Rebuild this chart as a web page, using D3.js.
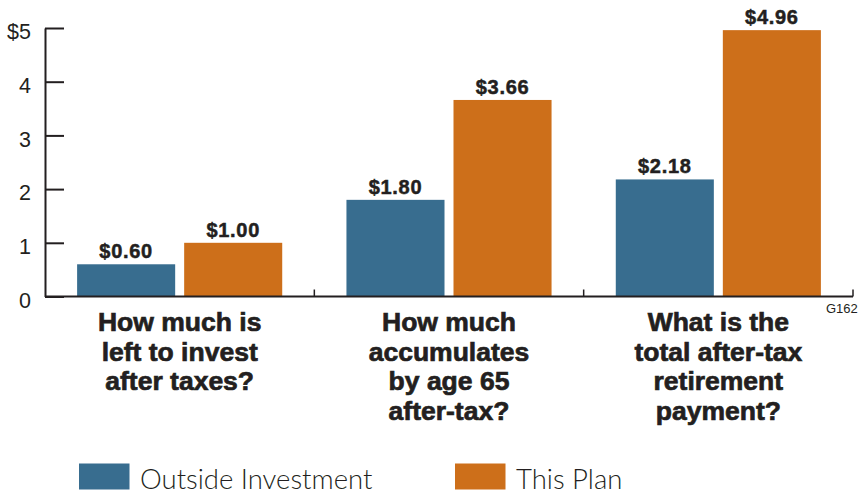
<!DOCTYPE html>
<html>
<head>
<meta charset="utf-8">
<script src="https://cdn.jsdelivr.net/npm/d3@7"></script>
<style>
  html, body { margin: 0; padding: 0; background: #ffffff; }
  svg { display: block; }
  text { fill: #231f20; }
</style>
</head>
<body>
<svg id="chart" width="861" height="493"></svg>
<script>
// Categories (each question is split into its printed lines)
const categories = ["q1", "q2", "q3"];
const categoryLines = [
  ["How much is", "left to invest", "after taxes?"],
  ["How much", "accumulates", "by age 65", "after-tax?"],
  ["What is the", "total after-tax", "retirement", "payment?"]
];
const seriesNames = ["Outside Investment", "This Plan"];
const outsideInvestment = [0.60, 1.80, 2.18];
const thisPlan = [1.00, 3.66, 4.96];
const yTicks = [0, 1, 2, 3, 4, 5];
const seriesColors = ["#386d8f", "#cd6f1a"];
const figureCode = "G162";

const svg = d3.select("#chart");
const ink = "#231f20";

const plot = { left: 45, right: 853, top: 28, bottom: 296.5 };

const y = d3.scaleLinear().domain([0, 5]).range([plot.bottom, plot.top]);
const x0 = d3.scaleBand().domain(categories).range([plot.left, plot.right]).padding(0);
const x1 = d3.scaleBand().domain(seriesNames).range([0, x0.bandwidth()])
  .paddingInner(0.084).paddingOuter(0.3);
const color = d3.scaleOrdinal().domain(seriesNames).range(seriesColors);

const rows = categories.map((c, i) => ({
  key: c,
  values: [
    { series: seriesNames[0], value: outsideInvestment[i] },
    { series: seriesNames[1], value: thisPlan[i] }
  ]
}));

// Bars
const groups = svg.append("g").selectAll("g").data(rows).join("g")
  .attr("transform", d => `translate(${x0(d.key)},0)`);

groups.selectAll("rect").data(d => d.values).join("rect")
  .attr("x", d => x1(d.series))
  .attr("width", x1.bandwidth())
  .attr("y", d => y(d.value))
  .attr("height", d => y(0) - y(d.value))
  .attr("fill", d => color(d.series));

// Value labels
groups.selectAll("text.value").data(d => d.values).join("text")
  .attr("class", "value")
  .attr("x", d => x1(d.series) + x1.bandwidth() / 2)
  .attr("y", d => y(d.value) - 6)
  .attr("text-anchor", "middle")
  .style("font-family", "'Liberation Sans', Arial, sans-serif")
  .style("font-weight", "bold")
  .style("font-size", "20px")
  .style("letter-spacing", "0.7px")
  .style("stroke", ink)
  .style("stroke-width", "0.5px")
  .text(d => "$" + d.value.toFixed(2));

// Y axis: ticks point into the plot, labels on the left
const yAxis = d3.axisLeft(y)
  .tickValues(yTicks)
  .tickSizeInner(-19)
  .tickSizeOuter(0)
  .tickPadding(14)
  .tickFormat(d => d === 5 ? "$5" : String(d));

const yg = svg.append("g")
  .attr("transform", `translate(${plot.left},0)`)
  .call(yAxis);
yg.select(".domain").attr("stroke", ink).attr("stroke-width", 2);
yg.selectAll(".tick line").attr("stroke", ink).attr("stroke-width", 2);
yg.selectAll(".tick text")
  .attr("dy", "0.5em")
  .style("font-family", "'Liberation Sans', Arial, sans-serif")
  .style("font-size", "21.5px")
  .attr("fill", ink);

// X axis baseline with small upward ticks at each category edge
svg.append("line")
  .attr("x1", plot.left).attr("x2", plot.right)
  .attr("y1", y(0)).attr("y2", y(0))
  .attr("stroke", ink).attr("stroke-width", 2);

svg.append("g").selectAll("line").data(categories).join("line")
  .attr("x1", d => x0(d) + x0.bandwidth())
  .attr("x2", d => x0(d) + x0.bandwidth())
  .attr("y1", y(0))
  .attr("y2", y(0) - 7)
  .attr("stroke", ink).attr("stroke-width", 1.5);

// Category labels
const catLabels = svg.append("g").selectAll("text").data(categories).join("text")
  .attr("text-anchor", "middle")
  .style("font-family", "'Liberation Sans', Arial, sans-serif")
  .style("font-weight", "bold")
  .style("font-size", "26.5px")
  .style("stroke", ink)
  .style("stroke-width", "0.7px");

catLabels.each(function (d, i) {
  const t = d3.select(this);
  categoryLines[i].forEach((line, j) => {
    t.append("tspan")
      .attr("x", x0(d) + x0.bandwidth() / 2)
      .attr("y", 331 + j * 29.5)
      .text(line);
  });
});

// Figure code
svg.append("text")
  .attr("x", 826).attr("y", 313)
  .style("font-family", "'Liberation Sans', Arial, sans-serif")
  .style("font-size", "13px")
  .attr("fill", "#333")
  .text(figureCode);

// Legend
const legendX = [79, 455];
const legend = svg.append("g").selectAll("g").data(seriesNames).join("g")
  .attr("transform", (d, i) => `translate(${legendX[i]},463.5)`);
legend.append("rect")
  .attr("width", 50.5).attr("height", 26)
  .attr("fill", d => color(d));
legend.append("text")
  .attr("x", 61).attr("y", 25)
  .style("font-family", "Lato, 'Liberation Sans', Arial, sans-serif")
  .style("font-weight", "300")
  .style("font-size", "27.5px")
  .text(d => d);
</script>
</body>
</html>
